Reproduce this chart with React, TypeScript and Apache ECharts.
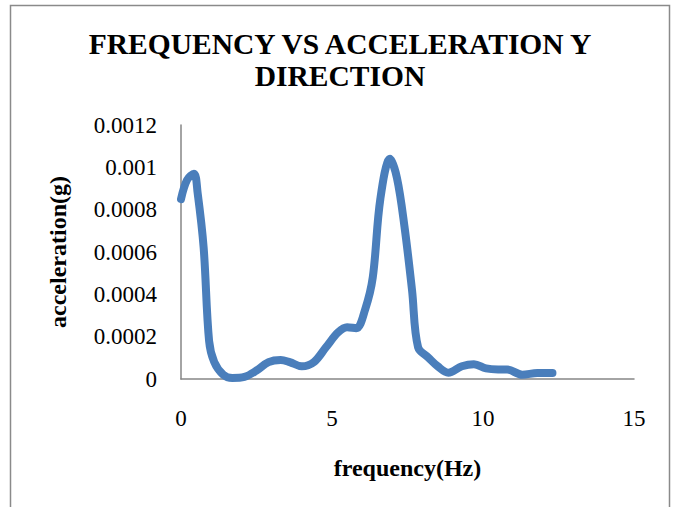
import React, { useEffect, useRef } from "react";
import * as echarts from "echarts";

const titleText = "FREQUENCY VS ACCELERATION Y\nDIRECTION";
const xName = "frequency(Hz)";
const yName = "acceleration(g)";

const frequency = [
  0, 0.2, 0.43, 0.55, 0.75, 0.93, 1.1, 1.4, 1.7, 2.1, 2.5, 2.9, 3.3, 3.6, 4.0,
  4.4, 4.8, 5.2, 5.5, 5.8, 6.1, 6.35, 6.6, 6.92, 7.15, 7.4, 7.65, 7.85, 8.2,
  8.5, 8.85, 9.3, 9.7, 10.1, 10.5, 10.8, 11.3, 11.8, 12.3,
];
const acceleration = [
  0.00085, 0.00094, 0.00097, 0.00088, 0.00062, 0.00018, 0.00008, 0.00002,
  0.000005, 0.00001, 0.00004, 0.00008, 0.00009, 0.00008, 0.00006, 0.00008,
  0.00015, 0.00022, 0.000245, 0.00024, 0.00033, 0.00048, 0.00085, 0.00104,
  0.00095, 0.00072, 0.00042, 0.00015, 0.0001, 0.00006, 0.00003, 0.00006,
  0.00007, 0.00005, 0.000045, 0.000045, 0.00002, 0.000028, 0.000028,
];

const FONT = "'Liberation Serif', 'Times New Roman', serif";

export default function App() {
  const ref = useRef<HTMLDivElement>(null);
  useEffect(() => {
    if (!ref.current) return;
    const chart = echarts.init(ref.current, undefined, { renderer: "svg" });
    const data = frequency.map((f, i) => [f, acceleration[i]]);
    chart.setOption({
      animation: false,
      backgroundColor: "#ffffff",
      graphic: [
        {
          type: "rect",
          shape: { x: 10.5, y: 5.5, width: 659, height: 540 },
          style: { fill: "none", stroke: "#8a8a8a", lineWidth: 1.5 },
          silent: true,
        },
      ],
      title: {
        text: titleText,
        left: "center",
        top: 23,
        textStyle: {
          fontFamily: FONT,
          fontWeight: "bold",
          fontSize: 29.5,
          color: "#000",
          lineHeight: 32,
        },
      },
      grid: { left: 181, right: 46, top: 125, bottom: 128 },
      xAxis: {
        type: "value",
        min: 0,
        max: 15,
        interval: 5,
        name: xName,
        nameLocation: "middle",
        nameGap: 77,
        nameTextStyle: {
          fontFamily: FONT,
          fontWeight: "bold",
          fontSize: 24,
          color: "#000",
        },
        axisLine: { show: true, lineStyle: { color: "#868686", width: 1.5 } },
        axisTick: { show: false },
        splitLine: { show: false },
        axisLabel: {
          margin: 28,
          fontFamily: FONT,
          fontSize: 23,
          color: "#000",
        },
      },
      yAxis: {
        type: "value",
        min: 0,
        max: 0.0012,
        interval: 0.0002,
        name: yName,
        nameLocation: "middle",
        nameGap: 111,
        nameRotate: 90,
        nameTextStyle: {
          fontFamily: FONT,
          fontWeight: "bold",
          fontSize: 24,
          color: "#000",
        },
        axisLine: { show: true, lineStyle: { color: "#868686", width: 1.5 } },
        axisTick: { show: false },
        splitLine: { show: false },
        axisLabel: {
          margin: 24,
          fontFamily: FONT,
          fontSize: 23,
          color: "#000",
          formatter: (v: number) => String(+v.toFixed(4)),
        },
      },
      series: [
        {
          type: "line",
          data,
          smooth: 0.35,
          symbol: "none",
          lineStyle: { color: "#4a7ebb", width: 8, cap: "round", join: "round" },
        },
      ],
    });
    return () => chart.dispose();
  }, []);
  return (
    <div
      ref={ref}
      style={{ position: "fixed", left: 0, top: 0, width: 680, height: 507 }}
    />
  );
}
